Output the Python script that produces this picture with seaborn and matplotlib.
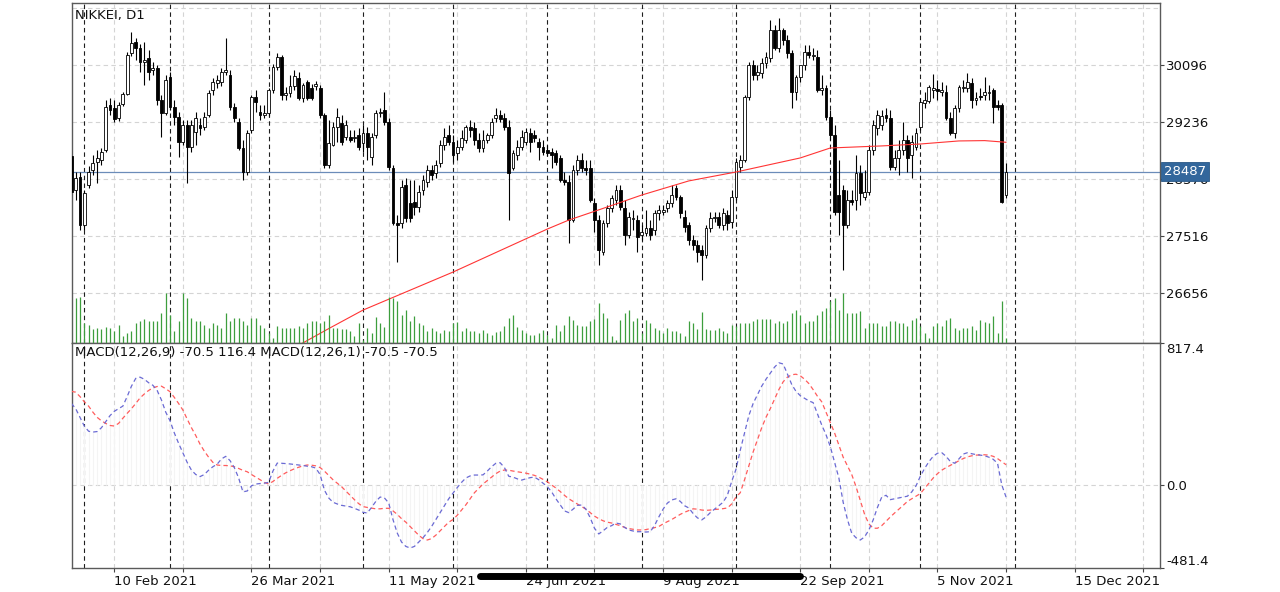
import numpy as np
import pandas as pd
import matplotlib
matplotlib.use('Agg')
import matplotlib.pyplot as plt
import matplotlib.transforms as mtransforms
from matplotlib.lines import Line2D
import seaborn as sns

# chart title and bar range (daily bars, weekdays)
symbol = 'NIKKEI, D1'
first_bar = '2021-01-27'
last_bar = '2021-11-29'

# daily OHLC
opens = [28725, 28213, 28409, 27685, 28288, 28514, 28635, 28665, 28815, 29494,
         29448, 29298, 29509, 29659, 30277, 30443, 30353, 30142, 30202, 30021,
         30051, 29569, 29373, 29916, 29464, 29313, 28936, 29192, 28861, 29087,
         29192, 29162, 29343, 29720, 29825, 29840, 29991, 29946, 29464, 29237,
         28846, 28484, 29117, 29614, 29388, 29343, 29373, 29720, 30066, 30217,
         29644, 29674, 29780, 29901, 29599, 29840, 29750, 29780, 29750, 29343,
         28589, 28891, 29162, 29222, 29011, 29011, 28996, 29042, 28921, 29072,
         28710, 29042, 29373, 29418, 29237, 28544, 27715, 27715, 28288, 28017,
         28032, 27957, 28213, 28333, 28514, 28469, 28620, 28891, 29042, 28936,
         28770, 28861, 28966, 29162, 29147, 28966, 28846, 28966, 29042, 29298,
         29343, 29298, 29162, 28544, 28740, 28861, 28936, 29072, 29042, 28936,
         28861, 28815, 28785, 28770, 28695, 28363, 28333, 27761, 28514, 28665,
         28544, 28544, 28017, 27761, 27278, 27715, 27941, 28062, 28213, 27941,
         27535, 27776, 27761, 27535, 27565, 27640, 27610, 27866, 27881, 27941,
         28017, 28243, 28107, 27806, 27685, 27459, 27384, 27308, 27233, 27640,
         27791, 27806, 27685, 27836, 27730, 28107, 28559, 28665, 29614, 30096,
         29946, 29976, 30127, 30202, 30624, 30353, 30624, 30473, 30277, 29690,
         29916, 30096, 30292, 30232, 30217, 29720, 29750, 29313, 29042, 28137,
         28213, 27685, 28062, 28062, 28469, 28107, 28183, 28815, 29147, 29192,
         29343, 29298, 28559, 28695, 28815, 28966, 28740, 28861, 29162, 29524,
         29554, 29720, 29735, 29690, 29690, 29298, 29072, 29448, 29750, 29750,
         29825, 29569, 29629, 29644, 29674, 29720, 29494, 29494, 28137]
highs = [28815, 28484, 28484, 28213, 28574, 28740, 28815, 28846, 29569, 29599,
         29569, 29539, 29690, 30292, 30594, 30503, 30413, 30443, 30322, 30142,
         30096, 29644, 29946, 29991, 29569, 29388, 29268, 29268, 29268, 29388,
         29298, 29388, 29720, 29901, 29946, 30051, 30503, 30021, 29524, 29298,
         28966, 29117, 29644, 29720, 29494, 29494, 29750, 30112, 30277, 30247,
         29765, 29946, 30021, 29991, 29825, 29870, 29810, 29855, 29795, 29373,
         29268, 29237, 29448, 29343, 29268, 29117, 29117, 29147, 29192, 29162,
         29072, 29418, 29448, 29690, 29298, 28589, 27836, 28363, 28394, 28363,
         28363, 28288, 28439, 28589, 28589, 28665, 28966, 29147, 29192, 29042,
         28966, 29117, 29192, 29268, 29237, 29072, 29117, 29072, 29298, 29448,
         29418, 29373, 29268, 28815, 28966, 29117, 29147, 29147, 29117, 28996,
         28966, 28891, 28846, 28815, 28740, 28484, 28439, 28589, 28740, 28770,
         28665, 28665, 28092, 27836, 27761, 27987, 28137, 28288, 28288, 28062,
         27881, 27911, 27836, 27685, 27911, 27761, 27911, 27987, 27987, 28062,
         28288, 28288, 28137, 27911, 27730, 27535, 27459, 27384, 27685, 27881,
         27881, 27881, 27941, 27911, 28213, 28695, 28740, 29644, 30142, 30172,
         30096, 30202, 30292, 30775, 30699, 30805, 30654, 30549, 30322, 29946,
         30051, 30398, 30398, 30353, 30322, 29946, 29795, 29418, 29192, 28665,
         28288, 28213, 28213, 28740, 28589, 28514, 28891, 29268, 29418, 29418,
         29448, 29418, 28815, 28966, 29237, 29042, 29042, 29147, 29599, 29690,
         29795, 29961, 29870, 29840, 29795, 29388, 29494, 29795, 29870, 29976,
         29901, 29690, 29750, 29916, 29795, 29750, 29569, 29524, 28620]
lows = [28137, 28062, 27610, 27610, 28243, 28439, 28318, 28589, 28785, 29343,
        29237, 29252, 29479, 29644, 30232, 30172, 29991, 29795, 29870, 29946,
        29494, 29011, 29343, 29418, 29192, 28710, 28891, 28318, 28785, 28891,
        29042, 29117, 29313, 29644, 29750, 29780, 29946, 29418, 29237, 28815,
        28363, 28439, 29072, 29388, 29268, 29298, 29328, 29674, 30021, 29569,
        29569, 29614, 29720, 29569, 29539, 29569, 29569, 29720, 29298, 28544,
        28544, 28876, 28936, 28891, 28966, 28936, 28936, 28815, 28785, 28665,
        28589, 28996, 29313, 29192, 28514, 27685, 27128, 27640, 27730, 27730,
        27836, 27881, 28137, 28258, 28363, 28394, 28559, 28815, 28891, 28635,
        28665, 28815, 28921, 29011, 28891, 28785, 28785, 28921, 28996, 29237,
        29237, 29117, 27761, 28514, 28665, 28815, 28891, 28785, 28936, 28665,
        28740, 28725, 28544, 28589, 28333, 28288, 27414, 27730, 28439, 28484,
        28439, 28032, 27580, 27082, 27233, 27655, 27881, 27987, 27911, 27384,
        27489, 27610, 27278, 27459, 27520, 27459, 27535, 27761, 27836, 27881,
        27957, 28062, 27791, 27580, 27384, 27308, 27128, 26856, 27188, 27580,
        27730, 27640, 27610, 27610, 27640, 28062, 28484, 28635, 29569, 29870,
        29870, 29901, 30051, 30142, 30322, 30292, 30398, 30202, 29448, 29569,
        29840, 30021, 30202, 30172, 29690, 29644, 29268, 28966, 27836, 27535,
        27007, 27640, 27987, 27911, 27987, 28062, 28137, 28740, 29042, 29117,
        29237, 28514, 28514, 28439, 28740, 28484, 28394, 28815, 29117, 29448,
        29524, 29599, 29569, 29629, 29268, 29042, 28996, 29388, 29690, 29690,
        29448, 29494, 29569, 29569, 29569, 29222, 29418, 28017, 28092]
closes = [28183, 28394, 27685, 28167, 28484, 28620, 28695, 28785, 29464, 29418,
          29283, 29494, 29659, 30247, 30428, 30353, 30142, 30172, 29991, 30051,
          29569, 29373, 29870, 29464, 29313, 28936, 29192, 28861, 29192, 29298,
          29147, 29313, 29674, 29840, 29870, 29991, 30021, 29464, 29298, 28846,
          28484, 29072, 29614, 29539, 29343, 29373, 29720, 30066, 30217, 29644,
          29674, 29780, 29931, 29599, 29795, 29599, 29599, 29810, 29343, 28589,
          28921, 29162, 29313, 28936, 29192, 28966, 29011, 28861, 29072, 28861,
          29011, 29373, 29388, 29237, 28559, 27715, 27685, 28258, 27791, 27791,
          27957, 28183, 28363, 28514, 28439, 28589, 28891, 29011, 28936, 28740,
          28861, 28996, 29162, 29117, 28966, 28846, 28966, 29042, 29237, 29343,
          29283, 29162, 28469, 28770, 28861, 29011, 29087, 28936, 28996, 28861,
          28785, 28770, 28740, 28635, 28363, 28333, 27761, 28514, 28665, 28544,
          28514, 28062, 27761, 27308, 27715, 27941, 28092, 28213, 27957, 27535,
          27806, 27791, 27504, 27580, 27640, 27535, 27866, 27911, 27911, 28017,
          28137, 28107, 27866, 27655, 27459, 27384, 27278, 27233, 27640, 27791,
          27806, 27685, 27866, 27715, 28107, 28635, 28665, 29614, 30096, 29946,
          29991, 30127, 30217, 30624, 30353, 30624, 30473, 30277, 29690, 29916,
          30096, 30292, 30247, 30247, 29720, 29750, 29313, 29042, 27881, 27881,
          27685, 28062, 28032, 28469, 28167, 28183, 28815, 29192, 29343, 29328,
          29298, 28559, 28695, 28815, 28966, 28695, 28936, 29072, 29539, 29569,
          29765, 29750, 29705, 29720, 29298, 29072, 29448, 29765, 29765, 29840,
          29569, 29599, 29614, 29690, 29690, 29464, 29464, 28032, 28487]
volumes = [3500, 4500, 4600, 2000, 1800, 1400, 1500, 1400, 1600, 1500,
           1200, 1800, 700, 1000, 1200, 2000, 2200, 2400, 2200, 2200,
           2200, 3000, 5000, 2800, 1200, 2200, 5000, 4500, 2500, 2200,
           2200, 1800, 1500, 2000, 1800, 1500, 3000, 2200, 2500, 2500,
           2200, 1800, 2500, 2500, 1800, 1500, 1000, 500, 1700, 1500,
           1500, 1500, 1500, 1700, 1500, 2000, 2200, 2200, 2000, 2200,
           2800, 1500, 1500, 1400, 1400, 1200, 700, 2000, 300, 1500,
           1000, 2600, 2000, 1600, 4600, 4500, 4200, 2800, 3300, 2200,
           2700, 2000, 1800, 1200, 1500, 1200, 1000, 1300, 1200, 2000,
           2100, 1200, 1500, 1200, 1200, 1000, 1300, 1000, 800, 1100,
           1200, 1700, 2500, 2800, 1600, 1300, 1000, 800, 800, 1000,
           1300, 800, 500, 1800, 1200, 1800, 2700, 2300, 1800, 1700,
           1700, 2200, 2400, 4000, 3000, 2500, 700, 300, 2300, 3000,
           3300, 2200, 2500, 1000, 2300, 2000, 1500, 1300, 1000, 1500,
           1200, 1200, 1000, 700, 2200, 2000, 1400, 3100, 1400, 1300,
           1300, 1500, 1200, 1000, 1800, 1700, 2000, 2000, 2000, 2200,
           2400, 2400, 2400, 2400, 2000, 2200, 2000, 2200, 3000, 3300,
           2800, 2000, 2200, 2200, 2800, 3200, 3500, 4200, 4500, 3300,
           5000, 3000, 3000, 3000, 3200, 1500, 2000, 2000, 2000, 1700,
           1700, 2200, 2200, 2000, 2000, 1700, 2300, 2500, 1700, 1000,
           500, 1700, 2000, 1700, 2300, 2500, 1500, 1300, 1500, 1500,
           1700, 1300, 2300, 2100, 2000, 2700, 1000, 4200, 500]

# moving average (red line), read at these dates
ma_dates = ['2021-01-27', '2021-04-13', '2021-04-21', '2021-05-03', '2021-06-01',
            '2021-07-01', '2021-07-08', '2021-07-22', '2021-08-02', '2021-08-17',
            '2021-09-01', '2021-09-22', '2021-10-01', '2021-10-19', '2021-11-01',
            '2021-11-12', '2021-11-22', '2021-11-29']
ma_values = [24020, 25910, 26125, 26404, 26977,
             27625, 27760, 27980, 28137, 28350,
             28484, 28696, 28846, 28877, 28906,
             28952, 28957, 28932]

# MACD main (blue) and signal (red)
macd_main = [470, 440, 390, 340, 310, 305, 308, 330, 365, 400,
             425, 440, 455, 510, 570, 615, 622, 610, 590, 575,
             545, 490, 420, 370, 300, 240, 185, 130, 85, 60,
             48, 60, 85, 105, 120, 150, 165, 140, 100, 40,
             -40, -35, -5, 5, 8, 10, 15, 80, 126, 125,
             123, 121, 118, 115, 112, 108, 105, 97, 60, -30,
             -75, -100, -110, -118, -122, -126, -135, -145, -158, -162,
             -130, -95, -70, -75, -104, -200, -278, -330, -355, -364,
             -355, -330, -305, -275, -240, -200, -160, -120, -80, -47,
             -15, 15, 40, 52, 57, 57, 58, 80, 105, 125,
             128, 100, 50, 45, 35, 28, 35, 42, 45, 30,
             10, -10, -40, -80, -115, -150, -160, -140, -118, -116,
             -140, -190, -250, -283, -265, -245, -235, -220, -225, -245,
             -260, -266, -270, -270, -272, -270, -235, -185, -140, -105,
             -87, -80, -95, -120, -133, -165, -190, -202, -185, -160,
             -140, -120, -100, -60, 20, 90, 200, 300, 400, 470,
             520, 570, 610, 645, 680, 705, 698, 640, 580, 540,
             515, 500, 485, 475, 410, 346, 290, 221, 130, 40,
             -100, -200, -279, -305, -318, -300, -260, -202, -130, -70,
             -60, -85, -80, -75, -70, -65, -40, -5, 50, 95,
             134, 165, 183, 186, 165, 135, 125, 150, 178, 186,
             180, 175, 172, 168, 160, 148, 125, 0, -70.5]
macd_signal = [540, 535, 510, 480, 455, 420, 390, 370, 355, 343,
               340, 355, 385, 413, 440, 470, 502, 525, 545, 560,
               568, 570, 555, 538, 505, 470, 432, 380, 330, 285,
               235, 195, 160, 130, 115, 112, 112, 110, 105, 95,
               84, 76, 60, 45, 30, 15, 5, 20, 38, 55,
               70, 82, 93, 102, 110, 115, 114, 110, 100, 80,
               55, 30, 10, -10, -35, -60, -85, -108, -125, -130,
               -134, -138, -138, -135, -135, -150, -170, -195, -215, -240,
               -265, -290, -310, -318, -310, -290, -265, -240, -215, -200,
               -175, -145, -115, -80, -45, -20, 5, 25, 45, 65,
               80, 86, 85, 80, 76, 72, 68, 62, 55, 45,
               32, 18, 0, -18, -38, -60, -80, -95, -110, -125,
               -140, -160, -180, -195, -207, -215, -220, -228, -235, -245,
               -252, -256, -260, -260, -258, -252, -247, -240, -225, -212,
               -200, -185, -170, -158, -148, -138, -140, -145, -147, -145,
               -142, -140, -137, -133, -110, -70, -45, 30, 110, 190,
               260, 330, 390, 440, 495, 550, 595, 622, 636, 639,
               630, 610, 585, 550, 512, 480, 420, 360, 300, 230,
               160, 110, 60, -10, -90, -170, -225, -250, -250, -235,
               -210, -185, -162, -140, -118, -95, -80, -65, -50, -20,
               10, 40, 65, 85, 100, 113, 125, 140, 152, 162,
               168, 172, 173, 174, 172, 165, 152, 134, 116.4]

price_levels = [26656, 27516, 28376, 29236, 30096, 30956]
macd_levels = [-481.4, 0.0, 817.4]
date_labels = ['10 Feb 2021', '26 Mar 2021', '11 May 2021', '24 Jun 2021',
               '9 Aug 2021', '22 Sep 2021', '5 Nov 2021', '15 Dec 2021']
last_price = 28487

sns.set_theme(style='white')
plt.rcParams['font.family'] = ['DejaVu Sans']
FS = 9.5
GRID = '#d4d4d4'
DASH = (0, (4, 3))

# bar positions; after the last bar the axis runs on calendar days
dates = pd.bdate_range(first_bar, last_bar)
idx = np.arange(len(dates))
future = pd.date_range(dates[-1] + pd.Timedelta(days=1), periods=40, freq='D')
axis_dates = dates.append(future)
where = {d: i for i, d in enumerate(axis_dates)}

x_lo, x_hi = 0.06, 253.9
label_pos = [where[pd.Timestamp(s)] for s in date_labels]
step = (label_pos[1] - label_pos[0]) // 2
grid_pos = list(range(label_pos[0], int(x_hi) + 1, step))
sep_pos = [i for i in range(1, len(axis_dates))
           if axis_dates[i].month != axis_dates[i - 1].month and axis_dates[i].year == 2021]

o = np.array(opens, float)
h = np.array(highs, float)
l = np.array(lows, float)
c = np.array(closes, float)

fig = plt.figure(figsize=(12.8, 5.92), dpi=100)
ax = fig.add_axes([0.056, 0.4201, 0.85025, 0.5743])
axm = fig.add_axes([0.056, 0.0400, 0.85025, 0.3801], sharex=ax)

# grid and month separators in both panels
for a in (ax, axm):
    for g in grid_pos:
        a.axvline(g, color=GRID, lw=0.8, ls=DASH, zorder=0)
    for s in sep_pos:
        a.axvline(s, color='#1e1e1e', lw=0.8, ls=DASH, zorder=1)
for p in price_levels:
    ax.axhline(p, color=GRID, lw=0.8, ls=DASH, zorder=0)
axm.axhline(0, color=GRID, lw=0.8, ls=DASH, zorder=0)

# volume bars on their own scale at the bottom of the price panel
axv = ax.twinx()
axv.vlines(idx, 0, volumes, color='#3d9e3d', lw=0.9)
axv.set_ylim(0, max(volumes) * 340 / 50)
axv.set_yticks([])
for s in axv.spines.values():
    s.set_visible(False)

# candles
up = c >= o
ax.vlines(idx, l, h, color='black', lw=0.8, zorder=3)
ax.bar(idx, np.maximum(np.abs(c - o), 12), bottom=np.minimum(o, c), width=0.66,
       color=np.where(up, 'white', 'black'), edgecolor='black', linewidth=0.6, zorder=4)

sns.lineplot(x=[where[pd.Timestamp(d)] for d in ma_dates], y=ma_values, ax=ax,
             color='#ff3434', linewidth=0.8, zorder=5)
ax.axhline(last_price, color='#6b8cb9', lw=0.9, zorder=2)

ax.set_ylim(25904, 31025)
ax.set_xlim(x_lo, x_hi)
ax.yaxis.tick_right()
ax.set_yticks(price_levels[:-1], labels=[str(p) for p in price_levels[:-1]])
ax.tick_params(axis='y', right=True, left=False, length=3, width=0.8, color='#444444',
               pad=1.5, labelsize=FS, labelcolor='#111111')
ax.tick_params(axis='x', bottom=False, labelbottom=False)
ax.text(0.003, 0.984, symbol, transform=ax.transAxes, ha='left', va='top',
        fontsize=FS, color='#111111')
trans = mtransforms.blended_transform_factory(ax.transAxes, ax.transData)
ax.text(1.0037, last_price, str(last_price), transform=trans, ha='left', va='center',
        fontsize=FS, color='white', zorder=10, clip_on=False,
        bbox=dict(boxstyle='square,pad=0.22', fc='#33679c', ec='#2a5886', lw=0.6))

# MACD panel
axm.vlines(idx, 0, macd_main, color='#f4f4f4', lw=0.8, zorder=1)
sns.lineplot(x=idx, y=macd_main, ax=axm, color='#6a6ad4', linewidth=0.9,
             linestyle=(0, (3.5, 2.5)), zorder=4)
sns.lineplot(x=idx, y=macd_signal, ax=axm, color='#ff5c5c', linewidth=0.9,
             linestyle=(0, (3.5, 2.5)), zorder=3)
axm.set_ylim(macd_levels[0], macd_levels[-1])
axm.yaxis.tick_right()
axm.set_yticks(macd_levels, labels=[f'{v:.1f}' for v in macd_levels])
axm.tick_params(axis='y', right=True, left=False, length=3, width=0.8, color='#444444',
                pad=1.5, labelsize=FS, labelcolor='#111111')
ylabels = axm.get_yticklabels()
ylabels[0].set_va('bottom')
ylabels[-1].set_va('top')
axm.text(0.003, 0.99,
         f'MACD(12,26,9) {macd_main[-1]:.1f} {macd_signal[-1]:.1f} '
         f'MACD(12,26,1) {macd_main[-1]:.1f} {macd_main[-1]:.1f}',
         transform=axm.transAxes, ha='left', va='top', fontsize=FS, color='#111111')

xt_labels = [axis_dates[g].strftime('%-d %b %Y') if g in label_pos else '' for g in grid_pos]
axm.set_xticks(grid_pos, labels=xt_labels)
axm.tick_params(axis='x', bottom=True, length=3, width=0.8, color='#444444', pad=1.5,
                labelsize=FS, labelcolor='#111111')
for t in axm.get_xticklabels():
    t.set_ha('left')

for a in (ax, axm):
    a.set_xlabel('')
    a.set_ylabel('')
    for s in a.spines.values():
        s.set_color('#5a5a5a')
        s.set_linewidth(1.0)

# dark scroll indicator across the bottom labels
fig.add_artist(Line2D([479.5 / 1280, 799.5 / 1280], [1 - 576 / 592] * 2,
                      transform=fig.transFigure, color='black', lw=5.0,
                      solid_capstyle='round'))

fig.savefig('out.png', dpi=100)
